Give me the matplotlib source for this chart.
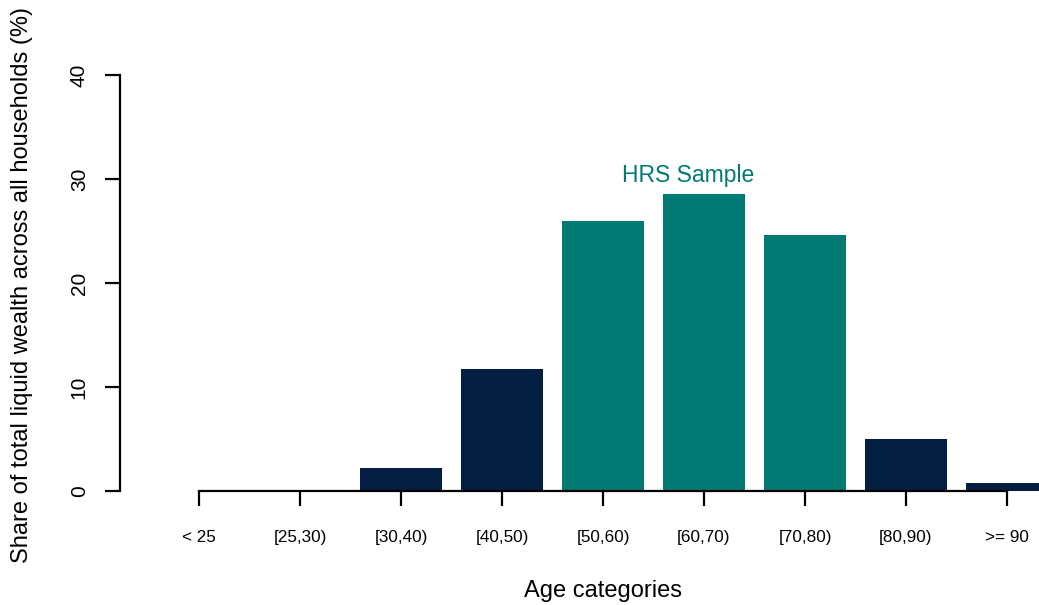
import numpy as np
import matplotlib.pyplot as plt

plt.rcParams['font.family'] = ['Liberation Sans', 'DejaVu Sans']

categories = ["< 25", "[25,30)", "[30,40)", "[40,50)", "[50,60)", "[60,70)", "[70,80)", "[80,90)", ">= 90"]
shares = [0.0, 0.0, 2.2, 11.7, 26.0, 28.6, 24.6, 5.0, 0.8]
in_hrs = [False, False, False, False, True, True, True, False, False]

navy = "#041E42"
teal = "#007A73"

W, H = 1039, 605
fig = plt.figure(figsize=(W / 100, H / 100), dpi=100)
# axes in pixel coordinates: left spine at x=120, zero line at y=491, 40 at y=75
ax = fig.add_axes([120 / W, (H - 491) / H, (W - 120) / W, (491 - 75) / H])

step = 101.0
x = np.arange(len(categories))
colors = [teal if h else navy for h in in_hrs]
ax.bar(x, shares, width=82 / step, color=colors, edgecolor="none", zorder=1)

ax.set_xlim((120 - 199) / step, (W - 199) / step)
ax.set_ylim(0, 40)

for s in ["top", "right"]:
    ax.spines[s].set_visible(False)
ax.spines["left"].set_bounds(0, 40)
ax.spines["bottom"].set_bounds(0, len(categories) - 1)
ax.spines["left"].set_linewidth(1.6)
ax.spines["bottom"].set_linewidth(1.6)
ax.spines["bottom"].set_zorder(3)

ax.set_xticks(x)
ax.set_xticklabels(categories, fontsize=12.3)
ax.tick_params(axis="x", length=11, width=1.6, pad=17)
ax.set_yticks([0, 10, 20, 30, 40])
ax.set_yticklabels(["0", "10", "20", "30", "40"], rotation=90, va="center", fontsize=15)
ax.tick_params(axis="y", length=10.5, width=1.6, pad=12)

fig.text(603 / W, 1 - 591 / H, "Age categories", fontsize=17, ha="center", va="center")
fig.text(22 / W, 1 - 285 / H, "Share of total liquid wealth across all households (%)",
         fontsize=17, rotation=90, ha="center", va="center")

ax.text(4.84, 29.7, "HRS Sample", color=teal, fontsize=16.5, ha="center", va="baseline")

fig.savefig("out.png", dpi=100)
